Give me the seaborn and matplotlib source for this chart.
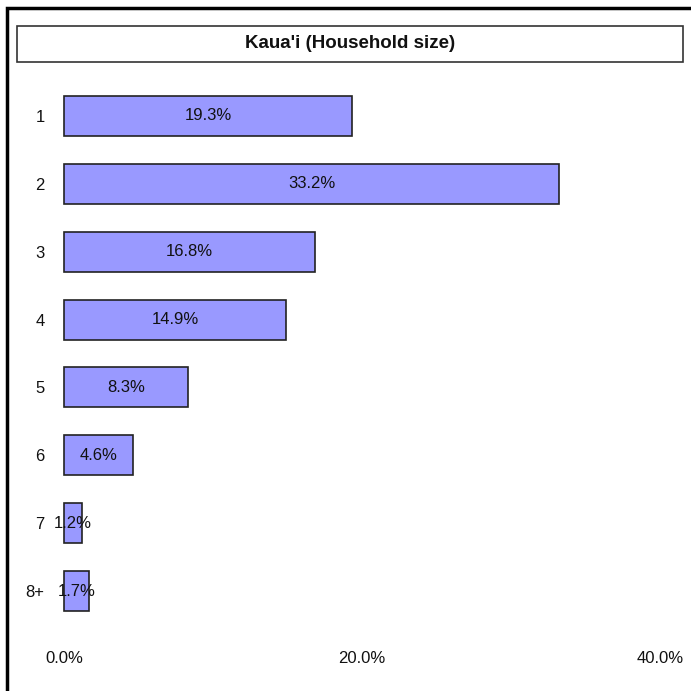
import matplotlib
matplotlib.use("Agg")
import matplotlib.pyplot as plt
import seaborn as sns
import pandas as pd
from matplotlib.patches import Rectangle

categories = ["1", "2", "3", "4", "5", "6", "7", "8+"]
values = [19.3, 33.2, 16.8, 14.9, 8.3, 4.6, 1.2, 1.7]
tick_values = [0, 20, 40]
tick_labels = ["0.0%", "20.0%", "40.0%"]
title = "Kaua'i (Household size)"

sns.set_theme(style="white")
plt.rcParams['font.family'] = ['Liberation Sans', 'DejaVu Sans']

W = H = 691
fig = plt.figure(figsize=(6.91, 6.91), dpi=100)
ax = fig.add_axes([64 / W, 1 - 625 / H, (W - 64) / W, (625 - 82) / H])

df = pd.DataFrame({"cat": categories, "val": values})
sns.barplot(data=df, x="val", y="cat", orient="h", color="#9999FF",
            saturation=1, width=0.59, edgecolor="#222222", linewidth=1.2, ax=ax)
for p in ax.patches:
    p.set_clip_on(False)

for i, v in enumerate(values):
    ax.text(v / 2, i, f"{v:.1f}%", ha="center", va="center", fontsize=12, color="#111111")

ax.set_xlim(0, 42.05)
ax.set_ylim(7.5, -0.5)
ax.set_xticks(tick_values)
ax.set_xticklabels(tick_labels)
ax.set_xlabel("")
ax.set_ylabel("")
ax.tick_params(axis="x", length=0, pad=19, labelsize=12, labelcolor="#111111")
ax.tick_params(axis="y", length=0, pad=14, labelsize=12, labelcolor="#111111")
for s in ax.spines.values():
    s.set_visible(False)
ax.grid(False)

# outer frame
fig.patches.append(Rectangle((7 / W, -0.1), 1.2, 1 - 8 / H + 0.1, transform=fig.transFigure,
                             fill=False, edgecolor="black", linewidth=2.5))
# title box
fig.patches.append(Rectangle((17 / W, 1 - 62 / H), (683 - 17) / W, 36 / H, transform=fig.transFigure,
                             fill=False, edgecolor="#333333", linewidth=1.2))
fig.text(350 / W, 1 - 44 / H, title, ha="center", va="center", fontsize=13.5,
         fontweight="bold", color="#111111")

fig.savefig("out.png", dpi=100)
